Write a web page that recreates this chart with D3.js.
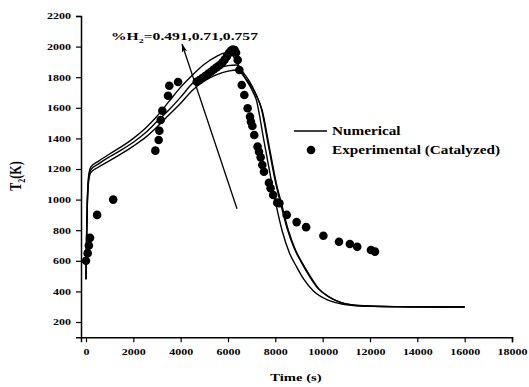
<!DOCTYPE html>
<html>
<head>
<meta charset="utf-8">
<script src="https://cdn.jsdelivr.net/npm/d3@7"></script>
<style>
  body { margin: 0; background: #fff; }
  text { font-family: "Liberation Serif", "Times New Roman", serif; font-weight: bold; fill: #000; }
</style>
</head>
<body>
<svg width="529" height="387"></svg>
<script>
// numerical curves (time s, T2 K), one per %H2
var numA = [[0,480],[30,820],[60,1020],[100,1140],[150,1190],[200,1212],[500,1248],[1000,1298],[1500,1346],[2000,1400],[2500,1465],[3000,1545],[3500,1640],[4000,1735],[4500,1815],[5000,1885],[5500,1935],[5870,1958],[6150,1948],[6400,1890],[6700,1800],[7000,1720],[7200,1650],[7500,1400],[7800,1150],[8000,990],[8300,790],[8600,650],[8900,560],[9200,480],[9600,405],[10200,345],[10800,318],[11500,306],[13000,300],[16000,298]];
var numB = [[0,480],[30,800],[60,1000],[100,1120],[150,1172],[200,1195],[500,1230],[1000,1280],[1500,1325],[2000,1375],[2500,1435],[3000,1510],[3500,1585],[4000,1670],[4500,1760],[5000,1820],[5500,1855],[6000,1876],[6370,1880],[6600,1840],[6900,1775],[7150,1700],[7400,1600],[7700,1360],[8000,1120],[8200,990],[8500,810],[8800,680],[9100,590],[9400,510],[9800,420],[10200,370],[10700,332],[11200,313],[12000,304],[13500,300],[16000,298]];
var numC = [[0,480],[30,780],[60,980],[100,1100],[150,1155],[200,1176],[500,1210],[1000,1255],[1500,1300],[2000,1350],[2500,1405],[3000,1475],[3500,1553],[4000,1630],[4500,1715],[5000,1775],[5500,1815],[6000,1840],[6420,1847],[6650,1810],[6950,1750],[7200,1680],[7450,1580],[7750,1340],[8050,1100],[8250,980],[8550,800],[8850,672],[9150,583],[9450,505],[9850,415],[10250,366],[10750,328],[11250,311],[12000,303],[13500,300],[16000,298]];
var numCurves = [numA, numB, numC];

// experimental (catalyzed) points
var expTime = [0,70,120,170,470,1150,2930,3070,3100,3155,3225,3465,3520,3890,
  4680,4800,4920,5040,5160,5280,5400,5520,5640,5760,5860,5960,6040,6120,6200,6280,6340,
  6410,6480,6580,6690,6830,6930,6970,7030,7110,7250,7310,7380,7450,7520,7730,7800,7910,8080,8170,
  8480,8900,9300,10030,10690,11150,11460,12040,12210];
var expTemp = [600,650,700,750,900,1000,1320,1390,1450,1520,1581,1679,1744,1769,
  1770,1782,1795,1808,1822,1836,1850,1864,1878,1895,1915,1938,1958,1972,1980,1978,1960,
  1912,1847,1749,1684,1597,1542,1509,1481,1422,1346,1313,1276,1226,1182,1110,1074,1030,980,976,
  900,853,820,764,725,710,692,671,660];

var xMajor = d3.range(0, 18001, 2000);
var xMinor = d3.range(1000, 18000, 2000);
var yMajor = d3.range(200, 2201, 200);
var yMinor = d3.range(300, 2200, 200);

var arrowFrom = [6380, 940], arrowTo = [4060, 2015];

var svg = d3.select("svg");
var mLeft = 81, mRight = 512, mTop = 16, mBottom = 337.3;

var x = d3.scaleLinear().domain([-211, 18000]).range([mLeft, mRight]);
var y = d3.scaleLinear().domain([100, 2200]).range([mBottom, mTop]);

// axes
var gx = svg.append("g").attr("transform", "translate(0," + mBottom + ")");
gx.call(d3.axisBottom(x).tickValues(xMinor).tickSize(3).tickFormat(""));
gx.call(d3.axisBottom(x).tickValues(xMajor).tickSize(5).tickPadding(6).tickFormat(d3.format("d")));
var gy = svg.append("g").attr("transform", "translate(" + mLeft + ",0)");
gy.call(d3.axisLeft(y).tickValues(yMinor).tickSize(3).tickFormat(""));
gy.call(d3.axisLeft(y).tickValues(yMajor).tickSize(5).tickPadding(5).tickFormat(d3.format("d")));
svg.selectAll(".domain").attr("stroke-width", 1.5);
svg.selectAll(".tick line").attr("stroke-width", 1.2);
svg.selectAll(".tick text").attr("font-size", 9);
gx.attr("font-family", null); gy.attr("font-family", null);

// numerical lines
var line = d3.line().x(function(d) { return x(d[0]); }).y(function(d) { return y(d[1]); })
  .curve(d3.curveMonotoneX);
svg.selectAll(".num").data(numCurves).enter().append("path")
  .attr("class", "num")
  .attr("d", line)
  .attr("fill", "none")
  .attr("stroke", "#000")
  .attr("stroke-width", 1.4);

// experimental dots
svg.selectAll(".exp").data(expTime).enter().append("circle")
  .attr("class", "exp")
  .attr("cx", function(d) { return x(d); })
  .attr("cy", function(d, i) { return y(expTemp[i]); })
  .attr("r", 4.3)
  .attr("fill", "#000");

// arrow
svg.append("defs").append("marker")
  .attr("id", "head").attr("markerUnits", "userSpaceOnUse")
  .attr("viewBox", "0 -4 10 8").attr("refX", 9).attr("refY", 0)
  .attr("markerWidth", 9).attr("markerHeight", 7).attr("orient", "auto")
  .append("path").attr("d", "M0,-3L10,0L0,3L2,0Z").attr("fill", "#000");
svg.append("line")
  .attr("x1", x(arrowFrom[0])).attr("y1", y(arrowFrom[1]))
  .attr("x2", x(arrowTo[0])).attr("y2", y(arrowTo[1]))
  .attr("stroke", "#000").attr("stroke-width", 1.3)
  .attr("marker-end", "url(#head)");

// annotation
var ann = svg.append("text").attr("x", 111).attr("y", 40).attr("font-size", 11);
ann.append("tspan").text("%H");
ann.append("tspan").attr("font-size", 7).attr("dy", 3).text("2");
ann.append("tspan").attr("dy", -3).text("=0.491,0.71,0.757");

// legend
svg.append("line").attr("x1", 294).attr("x2", 327).attr("y1", 131).attr("y2", 131)
  .attr("stroke", "#000").attr("stroke-width", 1.4);
svg.append("circle").attr("cx", 311).attr("cy", 150).attr("r", 4.3).attr("fill", "#000");
svg.append("text").attr("class", "lg").attr("x", 332).attr("y", 135).attr("font-size", 12).text("Numerical");
svg.append("text").attr("class", "lg").attr("x", 332).attr("y", 154).attr("font-size", 12).text("Experimental (Catalyzed)");

// axis titles
svg.append("text").attr("class", "st").attr("x", 296).attr("y", 381).attr("font-size", 11)
  .attr("text-anchor", "middle").text("Time (s)");
var yt = svg.append("text").attr("transform", "translate(21,176) scale(1.35,1) rotate(-90)")
  .attr("text-anchor", "middle").attr("font-size", 12);
yt.append("tspan").text("T");
yt.append("tspan").attr("font-size", 8).attr("dy", 3).text("2");
yt.append("tspan").attr("dy", -3).text("(K)");

// horizontal stretch of the printed fonts
function stretch(sel, k) {
  sel.each(function() {
    var w = this.getComputedTextLength();
    this.setAttribute("textLength", w * k);
    this.setAttribute("lengthAdjust", "spacingAndGlyphs");
  });
}
stretch(svg.selectAll(".tick text, text.st"), 1.33);
stretch(svg.selectAll("text.lg"), 1.27);
ann.attr("textLength", 147).attr("lengthAdjust", "spacingAndGlyphs");
</script>
</body>
</html>
